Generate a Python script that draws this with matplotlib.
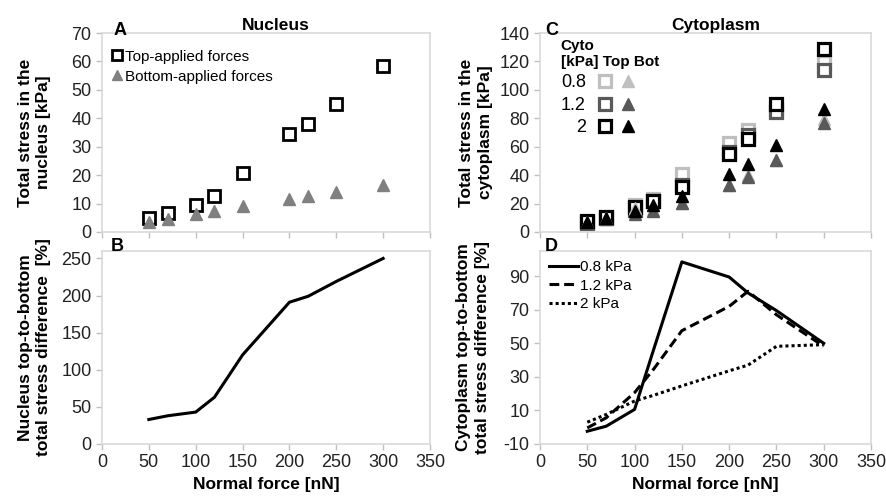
from matplotlib import pyplot as plt

plt.rcParams['font.family'] = ['Liberation Sans', 'DejaVu Sans']
plt.rcParams['axes.unicode_minus'] = False

# normal force [nN]
force = [50, 70, 100, 120, 150, 200, 220, 250, 300]

# A: nucleus total stress [kPa]
nuc_top = [5.0, 6.8, 9.4, 12.6, 20.6, 34.3, 38.1, 45.2, 58.3]
nuc_bot = [3.6, 4.6, 6.3, 7.5, 9.0, 11.5, 12.5, 13.9, 16.4]

# B: nucleus top-to-bottom difference [%]
nuc_diff = [33, 38, 43, 63, 120, 191, 199, 219, 250]

# C: cytoplasm total stress [kPa] for cyto stiffness 0.8, 1.2, 2 kPa
cyto_labels = ['0.8', '1.2', '2']
cyto_colors = ['#bfbfbf', '#595959', '#000000']
cyto_top = [
    [7.0, 10.0, 18.8, 23.5, 40.6, 62.5, 71.5, 86.5, 119.5],
    [6.5, 9.5, 15.5, 22.0, 33.0, 56.5, 68.0, 84.5, 113.8],
    [7.5, 10.5, 17.5, 21.5, 32.0, 55.0, 65.5, 90.0, 128.7],
]
cyto_bot = [
    [7.2, 9.5, 17.0, 15.5, 20.5, 33.2, 39.8, 51.0, 79.5],
    [6.0, 9.0, 13.0, 15.0, 20.7, 33.0, 39.0, 50.6, 77.0],
    [7.0, 10.0, 15.0, 19.0, 25.4, 41.0, 48.0, 61.0, 86.6],
]

# D: cytoplasm top-to-bottom difference [%]
cyto_diff = [
    [-2.4, 0.6, 10.6, 46.0, 98.5, 89.5, 80.0, 69.5, 50.0],
    [-0.4, 5.6, 20.6, 34.5, 57.5, 72.0, 81.0, 67.0, 48.2],
    [3.0, 7.6, 15.6, 19.0, 24.6, 33.6, 37.0, 48.2, 49.2],
]
diff_styles = ['-', (0, (3.2, 1.6)), (0, (1, 1))]

W, H = 886, 497
fig = plt.figure(figsize=(W / 100, H / 100), dpi=100)


def box(l, t, r, b):
    return fig.add_axes([l / W, 1 - b / H, (r - l) / W, (b - t) / H])


def style(ax):
    for s in ax.spines.values():
        s.set_color('#d9d9d9')
        s.set_linewidth(1.2)
    ax.tick_params(direction='out', length=4, color='#bfbfbf', width=1,
                   labelsize=13, labelcolor='#222222')
    ax.set_xlim(0, 350)
    ax.set_xticks(range(0, 351, 50))


axA = box(102, 33, 430, 232)
axB = box(102, 251, 430, 444)
axC = box(540, 33, 871, 232)
axD = box(540, 251, 871, 444)
for ax in (axA, axB, axC, axD):
    style(ax)

lab = dict(fontsize=12.5, fontweight='bold', linespacing=1.3)
letter = dict(fontsize=13, fontweight='bold', va='baseline')

# A
axA.plot(force, nuc_top, ls='none', marker='s', ms=8.5, mfc='white', mec='black', mew=2,
         label='Top-applied forces')
axA.plot(force, nuc_bot, ls='none', marker='^', ms=8, mfc='#808080', mec='#808080',
         label='Bottom-applied forces')
axA.set_ylim(0, 70)
axA.set_yticks(range(0, 71, 10))
axA.tick_params(axis='x', labelbottom=False)
axA.set_ylabel('Total stress in the\nnucleus [kPa]', **lab)
axA.yaxis.set_label_coords(-0.155, 0.5)
axA.set_title('Nucleus', fontsize=12.5, fontweight='bold', pad=0.5, x=0.53)
axA.text(0.034, 0.99, 'A', transform=axA.transAxes, **letter)
axA.legend(loc='upper left', frameon=False, fontsize=11, handlelength=0.6, handletextpad=0.2,
           markerscale=0.85, labelspacing=0.4, borderaxespad=0.3, bbox_to_anchor=(0.0, 0.97))

# B
axB.plot(force, nuc_diff, color='black', lw=2.2)
axB.set_ylim(0, 260)
axB.set_yticks(range(0, 251, 50))
axB.set_ylabel('Nucleus top-to-bottom\ntotal stress difference  [%]', **lab)
axB.yaxis.set_label_coords(-0.155, 0.5)
axB.set_xlabel('Normal force [nN]', fontsize=12.5, fontweight='bold', labelpad=4)
axB.text(0.026, 1.0, 'B', transform=axB.transAxes, **letter)

# C
handles_sq, handles_tri = [], []
for col, top in zip(cyto_colors, cyto_top):
    h, = axC.plot(force, top, ls='none', marker='s', ms=9, mfc='white', mec=col, mew=2.3)
    handles_sq.append(h)
for col, bot in zip(cyto_colors, cyto_bot):
    h, = axC.plot(force, bot, ls='none', marker='^', ms=9, mfc=col, mec=col)
    handles_tri.append(h)
axC.set_ylim(0, 140)
axC.set_yticks(range(0, 141, 20))
axC.tick_params(axis='x', labelbottom=False)
axC.set_ylabel('Total stress in the\ncytoplasm [kPa]', **lab)
axC.yaxis.set_label_coords(-0.142, 0.5)
axC.set_title('Cytoplasm', fontsize=12.5, fontweight='bold', pad=0.5, x=0.53)
axC.text(0.015, 0.99, 'C', transform=axC.transAxes, **letter)
axC.legend(handles_sq + handles_tri, cyto_labels + [''] * 3, ncol=2,
           markerfirst=False, loc='upper left', frameon=False, fontsize=13,
           handlelength=0.9, handletextpad=0.6, columnspacing=-0.2,
           labelspacing=0.3, borderaxespad=0.2, bbox_to_anchor=(0.03, 1.025),
           title='Cyto\n[kPa] Top Bot', alignment='left',
           title_fontproperties={'weight': 'bold', 'size': 11})

# D
for lbl, ls, d in zip(cyto_labels, diff_styles, cyto_diff):
    axD.plot(force, d, color='black', lw=2.2, ls=ls, label=f'{lbl} kPa')
axD.set_ylim(-10, 105)
axD.set_yticks(range(-10, 91, 20))
axD.set_ylabel('Cytoplasm top-to-bottom\ntotal stress difference [%]', **lab)
axD.yaxis.set_label_coords(-0.151, 0.5)
axD.set_xlabel('Normal force [nN]', fontsize=12.5, fontweight='bold', labelpad=4)
axD.text(0.015, 1.0, 'D', transform=axD.transAxes, **letter)
axD.legend(loc='upper left', frameon=False, fontsize=11, handlelength=1.9, handletextpad=0.1,
           labelspacing=0.3, borderaxespad=0.2, bbox_to_anchor=(0.0, 1.0))

fig.savefig('out.png', dpi=100)
